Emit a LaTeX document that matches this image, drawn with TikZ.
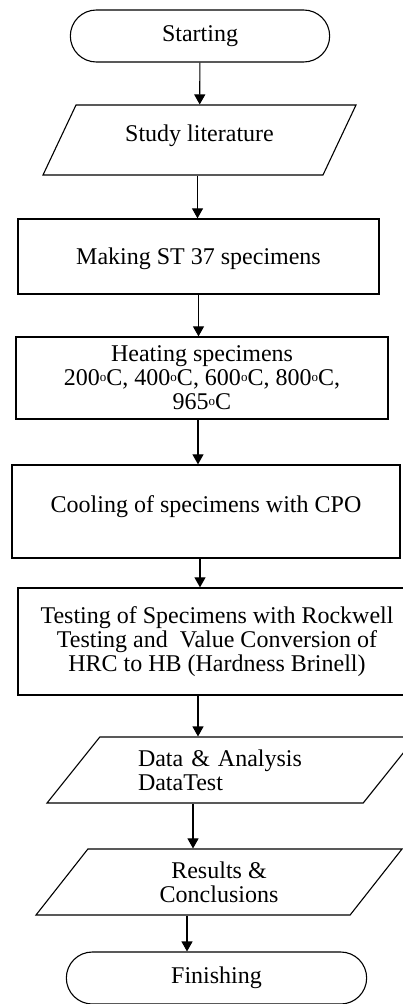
\documentclass[tikz,border=0pt]{standalone}
\usepackage{fontspec}
\setmainfont{Liberation Serif}
\usetikzlibrary{shapes.geometric,shapes.misc,arrows.meta}
\newcommand{\degc}{\raisebox{0.35ex}{\fontsize{13}{13}\selectfont o}C}
\tikzstyle{terminal}=[rounded rectangle, draw, line width=1.1pt, minimum height=52pt, font=\fontsize{24}{24}\selectfont]
\tikzstyle{io}=[trapezium, trapezium stretches body, draw, line width=1.1pt, minimum height=66pt, align=center, font=\fontsize{24}{24}\selectfont]
\tikzstyle{process}=[rectangle, draw, line width=1.3pt, align=center, font=\fontsize{24}{24}\selectfont]
\tikzstyle{flow}=[->, line width=1.1pt]

\begin{document}
\begin{tikzpicture}[x=1pt, y=-1pt, >={Triangle[length=10pt, width=11pt]}]
                    \useasboundingbox (0,0) rectangle (403,1004);
                    \node[terminal, minimum width=266pt] (start) at (200, 36) {Starting};
                    \node[io, minimum width=313pt, minimum height=70pt, text depth=14pt,
                        trapezium left angle=48.5, trapezium right angle=131.5
                    ] (study) at (199.5, 140) {Study literature};
                    \node[process, minimum width=361pt, minimum height=75pt, text height=22pt] (making) at (198.5, 256.5) {Making ST 37 specimens};
                    \node[process, minimum width=372pt, minimum height=82pt] (heating) at (202, 378)
                        {Heating specimens\\200\degc, 400\degc, 600\degc, 800\degc,\\965\degc};
                    \node[process, minimum width=388pt, minimum height=93pt, text depth=15pt] (cooling) at (206, 511.5) {Cooling of specimens with CPO};
                    \node[process, minimum width=398pt, minimum height=107pt] (testing) at (217, 641.5)
                        {Testing of Specimens with Rockwell\\Testing and\ \ Value Conversion of\\HRC to HB (Hardness Brinell)};
                    \node[io, minimum width=369pt, text width=187pt, align=left,
                        trapezium left angle=42, trapezium right angle=138
                    ] (data) at (231.5, 770) {Data \& Analysis\\DataTest};
                    \node[io, minimum width=366pt,
                        trapezium left angle=42.5, trapezium right angle=137.5
                    ] (results) at (219, 882) {Results \&\\Conclusions};
                    \node[terminal, minimum width=307pt] (finish) at (216.5, 978) {Finishing};
                    \draw[flow] (start) -- (study);
                    \draw[flow] ([xshift=-2pt]study.south) -- ([xshift=-2pt]study.south |- making.north);
                    \draw[flow] (making.south) -- (making.south |- heating.north);
                    \draw[flow] ([xshift=-4pt]heating.south) -- ([xshift=-4pt]heating.south |- cooling.north);
                    \draw[flow] ([xshift=-6pt]cooling.south) -- ([xshift=-6pt]cooling.south |- testing.north);
                    \draw[flow] ([xshift=-19pt]testing.south) -- ([xshift=-19pt]testing.south |- data.north);
                    \draw[flow] ([xshift=-38.5pt]data.south) -- ([xshift=-38.5pt]data.south |- results.north);
                    \draw[flow] ([xshift=-32pt]results.south) -- ([xshift=-32pt]results.south |- finish.north);
                \end{tikzpicture}
\end{document}
